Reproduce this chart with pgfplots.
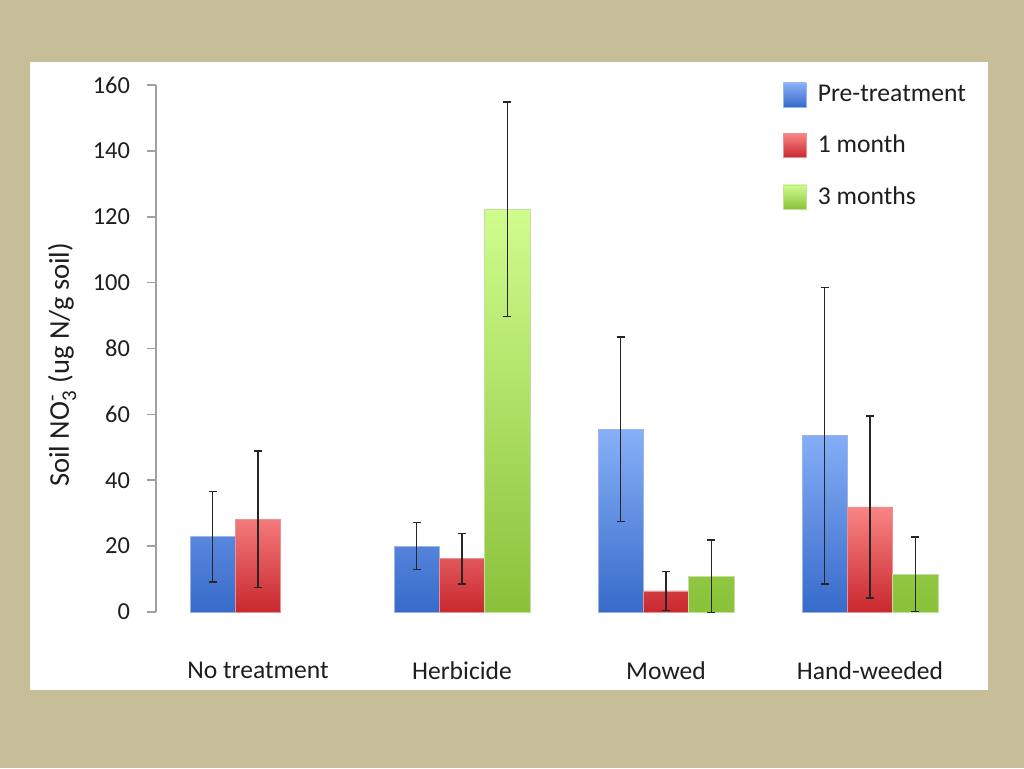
\documentclass[border=0pt]{standalone}
\usepackage{pgfplots}
\pgfplotsset{compat=1.18}
\usepackage{pgfplotstable}
\usepackage{fontspec}
\setmainfont{Carlito}
\definecolor{bgtan}{RGB}{197,190,153}
\definecolor{bluetop}{RGB}{135,176,248}
\definecolor{bluebot}{RGB}{55,106,202}
\definecolor{redtop}{RGB}{250,132,132}
\definecolor{redbot}{RGB}{200,40,46}
\definecolor{greentop}{RGB}{208,252,142}
\definecolor{greenbot}{RGB}{138,194,58}
\definecolor{axgray}{RGB}{160,160,160}
\definecolor{txt}{RGB}{30,30,30}

\pgfplotstableread{
x y e
0 22.9 13.75
1 20.0 7.1
2 55.5 28.0
3 53.5 45.0
}\pre
\pgfplotstableread{
x y e
0 28.2 20.7
1 16.2 7.7
2 6.4 5.9
3 31.9 27.6
}\onem
\pgfplotstableread{
x y e
1 122.3 32.6
2 10.8 11.0
3 11.4 11.3
}\threem

\begin{document}
\begin{tikzpicture}
\path[use as bounding box] (0,0) rectangle (512pt,384pt);
\fill[bgtan] (0,0) rectangle (512pt,384pt);
\fill[white] (15pt,39pt) rectangle (494pt,353pt);
\begin{axis}[
  at={(78pt,78pt)}, anchor=south west,
  scale only axis,
  width=408pt, height=263.5pt,
  xmin=-0.5, xmax=3.5,
  ymin=0, ymax=160,
  ytick={0,20,...,160},
  xtick={0,1,2,3},
  xticklabels={No treatment,Herbicide,Mowed,Hand-weeded},
  axis lines*=left,
  x axis line style={draw=none},
  y axis line style={draw=axgray, line width=0.8pt},
  xtick style={draw=none},
  ytick style={draw=axgray, line width=0.8pt},
  tick align=outside,
  major tick length=4.5pt,
  /pgf/number format/assume math mode=true,
  yticklabel style={font=\fontsize{12.2}{14}\selectfont, text=txt, xshift=-5pt},
  xticklabel style={font=\fontsize{12.8}{15}\selectfont, text=txt, yshift=-17pt},
  ylabel={Soil NO$_{\mbox{\fontsize{10.5}{11}\selectfont 3}}^{\mbox{\fontsize{10.5}{11}\selectfont -}}$ (ug N/g soil)},
  every axis y label/.style={at={(axis description cs:-0.115,0.469)}, rotate=90, anchor=center,
    font=\fontsize{14.3}{16}\selectfont, text=txt},
  ybar=0pt,
  bar width=0.222,
  legend style={draw=none, fill=none, at={(0.768,1.008)}, anchor=north west,
    inner sep=0pt, row sep=11.3pt, font=\fontsize{12.8}{15}\selectfont, text=txt,
    nodes={inner xsep=5.5pt}},
  legend cell align=left,
  error bars/error bar style={black!85, line width=0.75pt},
  error bars/error mark options={rotate=90, mark size=2pt, black!85, line width=0.75pt},
]
\addplot+[draw=bluebot!50, top color=bluetop, bottom color=bluebot,
  legend image code/.code={\shade[top color=bluetop, bottom color=bluebot] (0pt,-6pt) rectangle (11.5pt,6pt);},
  error bars/.cd, y dir=both, y explicit]
  table[x=x, y=y, y error=e] {\pre};
\addplot+[draw=redbot!50, top color=redtop, bottom color=redbot,
  legend image code/.code={\shade[top color=redtop, bottom color=redbot] (0pt,-6pt) rectangle (11.5pt,6pt);},
  error bars/.cd, y dir=both, y explicit]
  table[x=x, y=y, y error=e] {\onem};
\addplot+[draw=greenbot!50, top color=greentop, bottom color=greenbot,
  legend image code/.code={\shade[top color=greentop, bottom color=greenbot] (0pt,-6pt) rectangle (11.5pt,6pt);},
  error bars/.cd, y dir=both, y explicit]
  table[x=x, y=y, y error=e] {\threem};
\legend{Pre-treatment,1 month,3 months}
\end{axis}
\end{tikzpicture}
\end{document}
